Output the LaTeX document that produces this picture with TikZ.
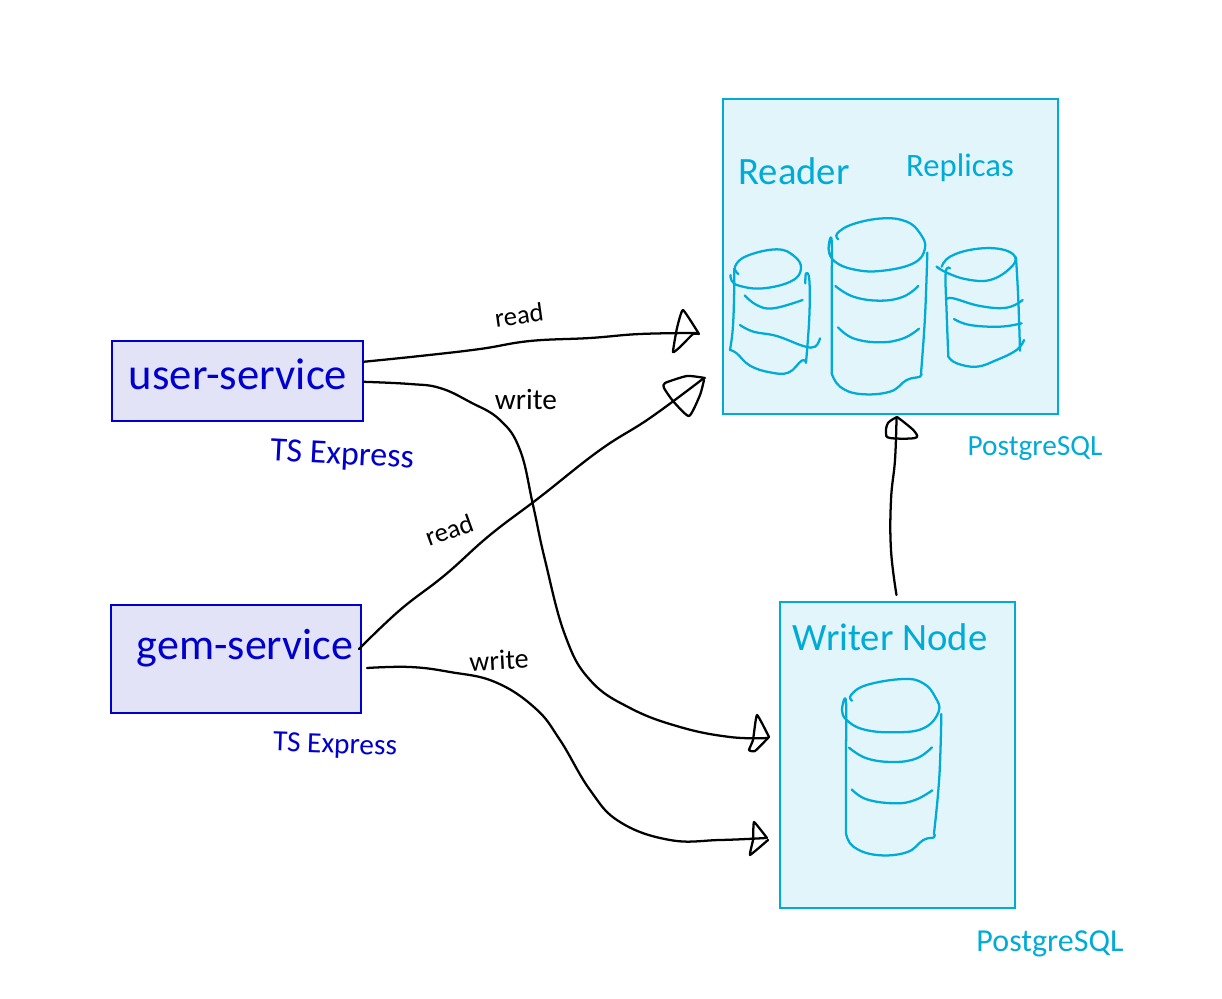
\documentclass[tikz,border=0pt]{standalone}
\usepackage{fontspec}
\setmainfont{Carlito}
\usetikzlibrary{calc}
\definecolor{svcline}{HTML}{0000CC}
\definecolor{svcfill}{HTML}{E3E3F8}
\definecolor{dbline}{HTML}{00ABD6}
\definecolor{dbfill}{HTML}{E2F5FA}
\tikzset{
  svcbox/.style={draw=svcline,fill=svcfill,line width=1.5pt,minimum width=0pt,inner sep=0pt},
  dbbox/.style={draw=dbline,fill=dbfill,line width=1.5pt,inner sep=0pt},
  ink/.style={line width=1.7pt,line cap=round,line join=round},
  wire/.style={ink,draw=black},
  dbink/.style={ink,draw=dbline},
  blabel/.style={text=svcline,inner sep=0pt},
  clabel/.style={text=dbline,inner sep=0pt},
  klabel/.style={text=black,inner sep=0pt},
}
\newcommand{\fsz}[1]{\fontsize{#1}{#1}\selectfont}
\begin{document}
\begin{tikzpicture}[x=.75pt,y=-.75pt]
\useasboundingbox (0,0) rectangle (1222,999);
% boxes
\node[svcbox,minimum width=188.25pt,minimum height=60pt] (us) at (237.5,381) {};
\node[svcbox,minimum width=187.5pt,minimum height=81pt] (gs) at (236,659) {};
\node[dbbox,minimum width=251.25pt,minimum height=236.25pt] (rd) at (890.5,256.5) {};
\node[dbbox,minimum width=176.25pt,minimum height=229.5pt] (wr) at (897.5,755) {};
% box labels
\node[blabel,font=\fsz{33.5}] (ust) at (238,374) {user-service};
\node[blabel,font=\fsz{33}] (gst) at (245,648) {gem-service};
\node[blabel,font=\fsz{25.5},rotate=-3] (te1) at (342,456) {TS Express};
\node[blabel,font=\fsz{22},rotate=-2] (te2) at (335,746) {TS Express};
\node[clabel,font=\fsz{29}] (rt) at (794,171) {Reader};
\node[clabel,font=\fsz{24.5}] (rp) at (960,168) {Replicas};
\node[clabel,font=\fsz{29}] (wt) at (890,637) {Writer Node};
\node[clabel,font=\fsz{22}] (pg1) at (1035,449) {PostgreSQL};
\node[clabel,font=\fsz{24}] (pg2) at (1050,944) {PostgreSQL};
\node[klabel,font=\fsz{20},rotate=8] (l1) at (519,315) {read};
\node[klabel,font=\fsz{22}] (l2) at (526,400) {write};
\node[klabel,font=\fsz{20},rotate=20] (l3) at (449,530) {read};
\node[klabel,font=\fsz{21},rotate=3] (l4) at (499,660) {write};
% connector ends
\coordinate (e1) at (697,333);
\coordinate (e2) at (704,378);
\coordinate (e3) at (768,738);
\coordinate (e4) at (766,838);
% connectors
\draw[wire] plot[smooth,tension=.7] coordinates {($(us.north east)!.265!(us.south east)$) (420,356) (480,349) (530,341) (590,338) (640,334) (e1)};
\draw[wire] plot[smooth,tension=.7] coordinates {($(us.north east)!.51!(us.south east)$) (410,384) (440,388) (470,402) (500,420) (520,450) (533,505) (545,560) (565,635) (590,680) (630,708) (680,727) (730,737) (e3)};
\draw[wire] plot[smooth,tension=.7] coordinates {($(gs.north east)+(-3,45)$) (400,610) (445,575) (490,535) (540,497) (600,450) (650,418) (e2)};
\draw[wire] plot[smooth,tension=.7] coordinates {($(gs.north east)+(5,64)$) (410,667) (450,672) (495,682) (535,708) (560,740) (590,790) (620,822) (670,840) (720,840) (e4)};
\draw[wire] plot[smooth,tension=.7] coordinates {($(wr.north)+(-1,-6)$) (891,550) (891,500) (895,460) ($(rd.south)+(6,4)$)};
% hand drawn arrow heads
\draw[wire] plot[smooth,tension=.25] coordinates {(699,334) (683,310) (677,328) (673,352) (680,347) (693,334) (699,334)};
\draw[wire] plot[smooth,tension=.35] coordinates {(705,378) (687,376) (665,383) (664,388) (673,401) (689,416) (700,395) (704,380)};
\draw[wire] plot[smooth,tension=.25] coordinates {(769,737) (757,715) (753,740) (749,750) (755,751) (769,737)};
\draw[wire] plot[smooth,tension=.2] coordinates {(767,838) (754,822) (753,840) (750,855) (768,840)};
\draw[wire] plot[smooth,tension=.6] coordinates {(897,417) (888,423) (886,433) (890,438) (915,438) (915,432) (905,423) (897,417)};
% reader cylinders (coordinates of a 3x view)
\begin{scope}[shift={(540pt,-150pt)},x=.25pt,y=-.25pt]
 \draw[dbink] plot[smooth,tension=.7] coordinates {(55,222) (45,200) (80,168) (170,148) (222,168) (243,205) (215,243) (130,265) (60,258) (35,242) (32,225)};
 \draw[dbink] plot[smooth,tension=.7] coordinates {(43,205) (42,300) (38,390) (30,450)};
 \draw[dbink] plot[smooth,tension=.7] coordinates {(30,450) (50,460) (90,497) (150,517) (205,518) (245,482) (258,488)};
 \draw[dbink] plot[smooth,tension=.7] coordinates {(258,488) (268,350) (268,240) (258,220) (256,250)};
 \draw[dbink] plot[smooth,tension=.7] coordinates {(74,286) (110,315) (160,325) (248,300)};
 \draw[dbink] plot[smooth,tension=.7] coordinates {(60,375) (100,395) (170,408) (250,438) (285,440) (300,415)};
 \draw[dbink] plot[smooth,tension=.7] coordinates {(355,118) (352,100) (400,72) (490,55) (560,65) (600,100) (615,145) (580,190) (480,213) (400,208) (345,185) (326,150) (335,122) (335,300) (335,520)};
 \draw[dbink] plot[smooth,tension=.7] coordinates {(335,520) (360,560) (420,582) (510,575) (560,540) (600,530) (603,520)};
 \draw[dbink] plot[smooth,tension=.7] coordinates {(603,520) (615,350) (622,158)};
 \draw[dbink] plot[smooth,tension=.7] coordinates {(346,258) (400,290) (480,302) (550,290) (595,258)};
 \draw[dbink] plot[smooth,tension=.7] coordinates {(354,382) (400,415) (480,427) (550,415) (597,386)};
 \draw[dbink] plot[smooth,tension=.7] coordinates {(665,200) (690,170) (760,148) (840,147) (885,170) (870,205) (810,240) (740,238) (680,218) (650,200) (660,208)};
 \draw[dbink] plot[smooth,tension=.7] coordinates {(690,205) (677,220) (680,340) (685,470)};
 \draw[dbink] plot[smooth,tension=.7] coordinates {(685,470) (710,490) (770,500) (830,480) (890,450) (912,420)};
 \draw[dbink] plot[smooth,tension=.7] coordinates {(888,172) (895,300) (900,452)};
 \draw[dbink] plot[smooth,tension=.7] coordinates {(682,297) (700,295) (780,318) (860,323) (908,300)};
 \draw[dbink] plot[smooth,tension=.7] coordinates {(702,357) (750,375) (840,380) (905,370)};
\end{scope}
% writer cylinder
\begin{scope}[shift={(585pt,-495pt)},x=.25pt,y=-.25pt]
 \draw[dbink] plot[smooth,tension=.7] coordinates {(216,122) (213,105) (260,75) (370,57) (430,70) (465,110) (476,155) (430,205) (340,217) (250,208) (200,180) (186,150) (198,125) (198,300) (198,520)};
 \draw[dbink] plot[smooth,tension=.7] coordinates {(198,520) (220,560) (290,585) (380,577) (430,540) (462,532) (462,522)};
 \draw[dbink] plot[smooth,tension=.7] coordinates {(462,520) (478,350) (484,162)};
 \draw[dbink] plot[smooth,tension=.7] coordinates {(207,263) (260,295) (340,306) (410,295) (456,262)};
 \draw[dbink] plot[smooth,tension=.7] coordinates {(215,388) (260,418) (345,430) (405,420) (457,391)};
\end{scope}
\end{tikzpicture}
\end{document}
